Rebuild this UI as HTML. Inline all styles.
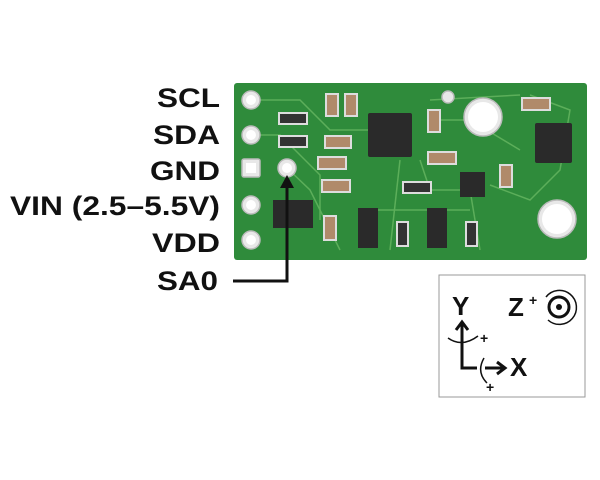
<!DOCTYPE html>
<html><head><style>
html,body{margin:0;padding:0;background:#fff;}
svg{display:block;}
text{font-family:"Liberation Sans",sans-serif;font-weight:bold;}
</style></head><body>
<svg width="600" height="480" viewBox="0 0 600 480">
<rect x="234" y="83" width="353" height="177" rx="3" fill="#2f8b3b"/>
<g stroke="#5cae5a" stroke-width="1.5" fill="none">
<path d="M251 100 L300 100 L330 130 L370 130"/>
<path d="M251 135 L280 135 L320 175 L320 220"/>
<path d="M287 168 L310 190 L340 250"/>
<path d="M400 160 L390 250"/>
<path d="M420 160 L430 190 L470 190 L480 250"/>
<path d="M440 120 L470 120 L520 150"/>
<path d="M490 185 L530 200 L560 170 L570 110 L530 95"/>
<path d="M430 100 L520 95"/>
<path d="M360 210 L470 210"/>
</g>
<g fill="#e8e8e8" stroke="#bbb" stroke-width="1.5">
<circle cx="251" cy="100" r="9"/><circle cx="251" cy="135" r="9"/>
<rect x="242" y="159" width="18" height="18" rx="2"/>
<circle cx="251" cy="205" r="9"/><circle cx="251" cy="240" r="9"/>
<circle cx="287" cy="168" r="9"/>
<circle cx="483" cy="117" r="19"/><circle cx="557" cy="219" r="19"/>
<circle cx="448" cy="97" r="6"/>
</g>
<g fill="#fff"><circle cx="251" cy="100" r="5"/><circle cx="251" cy="135" r="5"/><rect x="246" y="163" width="10" height="10"/><circle cx="251" cy="205" r="5"/><circle cx="251" cy="240" r="5"/><circle cx="287" cy="168" r="5"/><circle cx="483" cy="117" r="15"/><circle cx="557" cy="219" r="15"/></g>
<g fill="#2a2a2a">
<rect x="368" y="113" width="44" height="44" rx="2"/>
<rect x="535" y="123" width="37" height="40" rx="2"/>
<rect x="460" y="172" width="25" height="25"/>
<rect x="273" y="200" width="40" height="28"/>
<rect x="358" y="208" width="20" height="40"/>
<rect x="427" y="208" width="20" height="40"/>
</g>
<g fill="#b08a6a" stroke="#ddd" stroke-width="2">
<rect x="326" y="94" width="12" height="22"/><rect x="345" y="94" width="12" height="22"/>
<rect x="325" y="136" width="26" height="12"/><rect x="318" y="157" width="28" height="12"/>
<rect x="322" y="180" width="28" height="12"/><rect x="428" y="110" width="12" height="22"/>
<rect x="428" y="152" width="28" height="12"/><rect x="500" y="165" width="12" height="22"/>
<rect x="522" y="98" width="28" height="12"/><rect x="324" y="216" width="12" height="24"/>
</g>
<g fill="#333" stroke="#ddd" stroke-width="2">
<rect x="279" y="113" width="28" height="11"/><rect x="279" y="136" width="28" height="11"/>
<rect x="403" y="182" width="28" height="11"/><rect x="397" y="222" width="11" height="24"/><rect x="466" y="222" width="11" height="24"/>
</g>
<g font-size="27" fill="#111">
<text x="157" y="107" textLength="63" lengthAdjust="spacingAndGlyphs">SCL</text>
<text x="153" y="144" textLength="67" lengthAdjust="spacingAndGlyphs">SDA</text>
<text x="150" y="180" textLength="70" lengthAdjust="spacingAndGlyphs">GND</text>
<text x="10" y="215" textLength="210" lengthAdjust="spacingAndGlyphs">VIN (2.5–5.5V)</text>
<text x="152" y="252" textLength="68" lengthAdjust="spacingAndGlyphs">VDD</text>
<text x="157" y="290" textLength="61" lengthAdjust="spacingAndGlyphs">SA0</text>
</g>
<path d="M233 281 L287 281 L287 186" stroke="#111" stroke-width="3" fill="none"/>
<polygon points="280,188 294,188 287,175" fill="#111"/>
<rect x="439" y="275" width="146" height="122" fill="#fff" stroke="#999" stroke-width="1"/>
<g fill="#111">
<text x="452" y="315" font-size="26">Y</text>
<text x="508" y="316" font-size="26">Z</text>
<text x="529" y="305" font-size="14">+</text>
<text x="510" y="376" font-size="26">X</text>
<text x="480" y="343" font-size="14">+</text>
<text x="486" y="392" font-size="14">+</text>
</g>
<g stroke="#111" fill="none">
<path d="M462 348 L462 368 L477 368" stroke-width="3"/>
<path d="M462 348 L462 322" stroke-width="3"/><path d="M456 330 L462 322 L468 330" stroke-width="3"/>
<path d="M485 368 L505 368" stroke-width="3"/><path d="M497 362 L505 368 L497 374" stroke-width="3"/>
<path d="M448 338 Q462 348 478 336" stroke-width="1.5"/>
<path d="M484 358 Q476 372 487 383" stroke-width="1.5"/>
<circle cx="559" cy="307" r="10" stroke-width="3"/>
<path d="M546 297 A17 17 0 1 1 548 320" stroke-width="1.5"/>
</g>
<circle cx="559" cy="307" r="3" fill="#111"/>
</svg>
</body></html>
